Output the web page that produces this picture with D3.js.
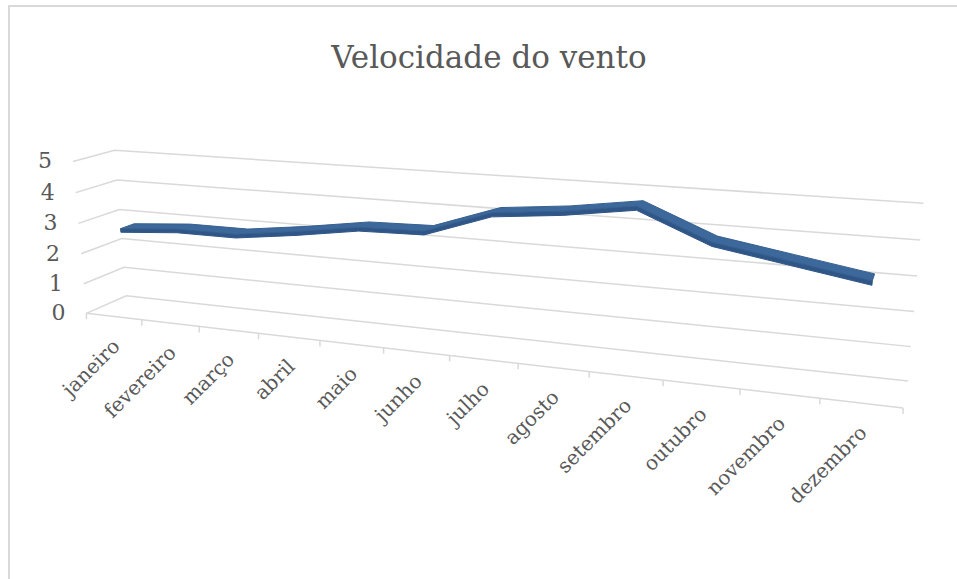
<!DOCTYPE html>
<html>
<head>
<meta charset="utf-8">
<script src="https://cdnjs.cloudflare.com/ajax/libs/d3/7.8.5/d3.min.js"></script>
<style>
  html, body { margin: 0; padding: 0; background: #fff; }
  svg text { font-family: "DejaVu Serif", serif; fill: #595959; }
</style>
</head>
<body>
<script>

// DATA
// --------------------------------------------------------------------------

var months = [
  'janeiro', 'fevereiro', 'março', 'abril', 'maio', 'junho',
  'julho', 'agosto', 'setembro', 'outubro', 'novembro', 'dezembro'
];

var windSpeed = [2.75, 2.9, 2.9, 3.15, 3.45, 3.5, 4.2, 4.4, 4.7, 3.85, 3.5, 3.15];

var valueTicks = [0, 1, 2, 3, 4, 5];

var title = 'Velocidade do vento';


// LAYOUT
// --------------------------------------------------------------------------

var W = 957, H = 579;

// Where the corners of the 3D box sit on screen: [u, v, w] -> [x, y].
// u runs along the months, v up the value axis, w from front to back.
var frame = [
  [[0, 0, 0], [87, 313]],
  [[1, 0, 0], [903, 407]],
  [[0, 0, 1], [126, 295]],
  [[1, 0, 1], [908, 380]],
  [[0, 1, 1], [115, 151]],
  [[1, 1, 1], [923, 203]],
  [[0, 1, 0], [73, 161]],
  [[0.25, 0, 0], [259, 335]],
  [[0.5, 0, 0], [449, 356]],
  [[0.75, 0, 0], [663, 381]],
  [[0, 0.6, 1], [119, 210]],
  [[1, 0.6, 1], [918, 277]],
  [[0, 0.6, 0], [78, 222]]
];


// PROJECTION
// --------------------------------------------------------------------------

/**
 * Fit a 3x4 perspective matrix to the frame points (least squares).
 */
function fitProjection(pairs) {

  var s = 1000, ata = [], atb = [];
  for (var i = 0; i < 11; i++) { ata.push(new Array(11).fill(0)); atb.push(0); }

  function add(row, rhs) {
    for (var i = 0; i < 11; i++) {
      atb[i] += row[i] * rhs;
      for (var j = 0; j < 11; j++) ata[i][j] += row[i] * row[j];
    }
  }

  pairs.forEach(function(p) {
    var u = p[0][0], v = p[0][1], w = p[0][2];
    var x = p[1][0] / s, y = p[1][1] / s;
    add([u, v, w, 1, 0, 0, 0, 0, -x*u, -x*v, -x*w], x);
    add([0, 0, 0, 0, u, v, w, 1, -y*u, -y*v, -y*w], y);
  });

  // Gaussian elimination.
  var n = 11;
  for (var c = 0; c < n; c++) {
    var piv = c;
    for (var r = c+1; r < n; r++) {
      if (Math.abs(ata[r][c]) > Math.abs(ata[piv][c])) piv = r;
    }
    var tmp = ata[c]; ata[c] = ata[piv]; ata[piv] = tmp;
    var tb = atb[c]; atb[c] = atb[piv]; atb[piv] = tb;
    for (var r = c+1; r < n; r++) {
      var f = ata[r][c] / ata[c][c];
      for (var k = c; k < n; k++) ata[r][k] -= f * ata[c][k];
      atb[r] -= f * atb[c];
    }
  }
  var p = new Array(n).fill(0);
  for (var r = n-1; r >= 0; r--) {
    var sum = atb[r];
    for (var k = r+1; k < n; k++) sum -= ata[r][k] * p[k];
    p[r] = sum / ata[r][r];
  }

  return function(pt) {
    var u = pt[0], v = pt[1], w = pt[2];
    var d = p[8]*u + p[9]*v + p[10]*w + 1;
    return [
      s * (p[0]*u + p[1]*v + p[2]*w + p[3]) / d,
      s * (p[4]*u + p[5]*v + p[6]*w + p[7]) / d
    ];
  };

}

var project = fitProjection(frame);


// SCALES
// --------------------------------------------------------------------------

var x = d3.scaleBand().domain(months).range([0, 1]);
var y = d3.scaleLinear().domain([0, 5]).range([0, 1]);

var uMid = function(m) { return x(m) + x.bandwidth() / 2; };


// CHART
// --------------------------------------------------------------------------

var svg = d3.select('body').append('svg')
  .attr('width', W).attr('height', H);

// Outer border.
svg.append('rect')
  .attr('x', 9).attr('y', 6)
  .attr('width', W + 10).attr('height', H + 10)
  .attr('fill', 'none')
  .attr('stroke', '#d9d9d9')
  .attr('stroke-width', 2);

// Title.
svg.append('text')
  .attr('x', 489).attr('y', 68)
  .attr('text-anchor', 'middle')
  .attr('font-size', 31)
  .text(title);

var grid = svg.append('g')
  .attr('stroke', '#d9d9d9')
  .attr('stroke-width', 1.5)
  .attr('fill', 'none');

var line = d3.line();

// Back wall and side wall gridlines.
valueTicks.forEach(function(t) {
  var v = y(t);
  grid.append('path').attr('d', line([
    project([0, v, 0]), project([0, v, 1]), project([1, v, 1])
  ]));
});

// Category axis and its ticks.
grid.append('path').attr('d', line([project([0, 0, 0]), project([1, 0, 0])]));

var bounds = months.map(function(m) { return x(m); }).concat([1]);
bounds.forEach(function(u) {
  var p = project([u, 0, 0]);
  grid.append('path').attr('d', line([p, [p[0], p[1] + 6]]));
});

// Value labels.
svg.append('g').selectAll('text')
  .data(valueTicks)
  .join('text')
  .attr('x', function(t) { return project([0, y(t), 0])[0] - 21; })
  .attr('y', function(t) { return project([0, y(t), 0])[1] + 1; })
  .attr('text-anchor', 'end')
  .attr('dominant-baseline', 'middle')
  .attr('font-size', 22)
  .text(function(t) { return t; });

// Month labels.
svg.append('g').selectAll('text')
  .data(months)
  .join('text')
  .attr('transform', function(m) {
    var p = project([uMid(m), 0, 0]);
    return 'translate(' + (p[0] + 7) + ',' + (p[1] + 31) + ') rotate(-45)';
  })
  .attr('text-anchor', 'end')
  .attr('font-size', 20)
  .text(function(m) { return m; });

// The 3D ribbon: top face between two depths plus a thin front face.
var wFront = 0.33, wBack = 0.67, drop = y(0.12);

var pts = months.map(function(m, i) {
  return [uMid(m), y(windSpeed[i])];
});

var outline = []
  .concat(pts.map(function(p) { return project([p[0], p[1], wBack]); }))
  .concat(pts.slice().reverse().map(function(p) {
    return project([p[0], p[1], wFront]);
  }));

var front = []
  .concat(pts.map(function(p) { return project([p[0], p[1], wFront]); }))
  .concat(pts.slice().reverse().map(function(p) {
    return project([p[0], p[1] - drop, wFront]);
  }));

svg.append('path')
  .attr('d', line(front) + 'Z')
  .attr('fill', '#2f5687')
  .attr('stroke', '#2f5687')
  .attr('stroke-width', 1)
  .attr('stroke-linejoin', 'round');

svg.append('path')
  .attr('d', line(outline) + 'Z')
  .attr('fill', '#3d689c')
  .attr('stroke', '#36608f')
  .attr('stroke-width', 1)
  .attr('stroke-linejoin', 'round');

</script>
</body>
</html>
